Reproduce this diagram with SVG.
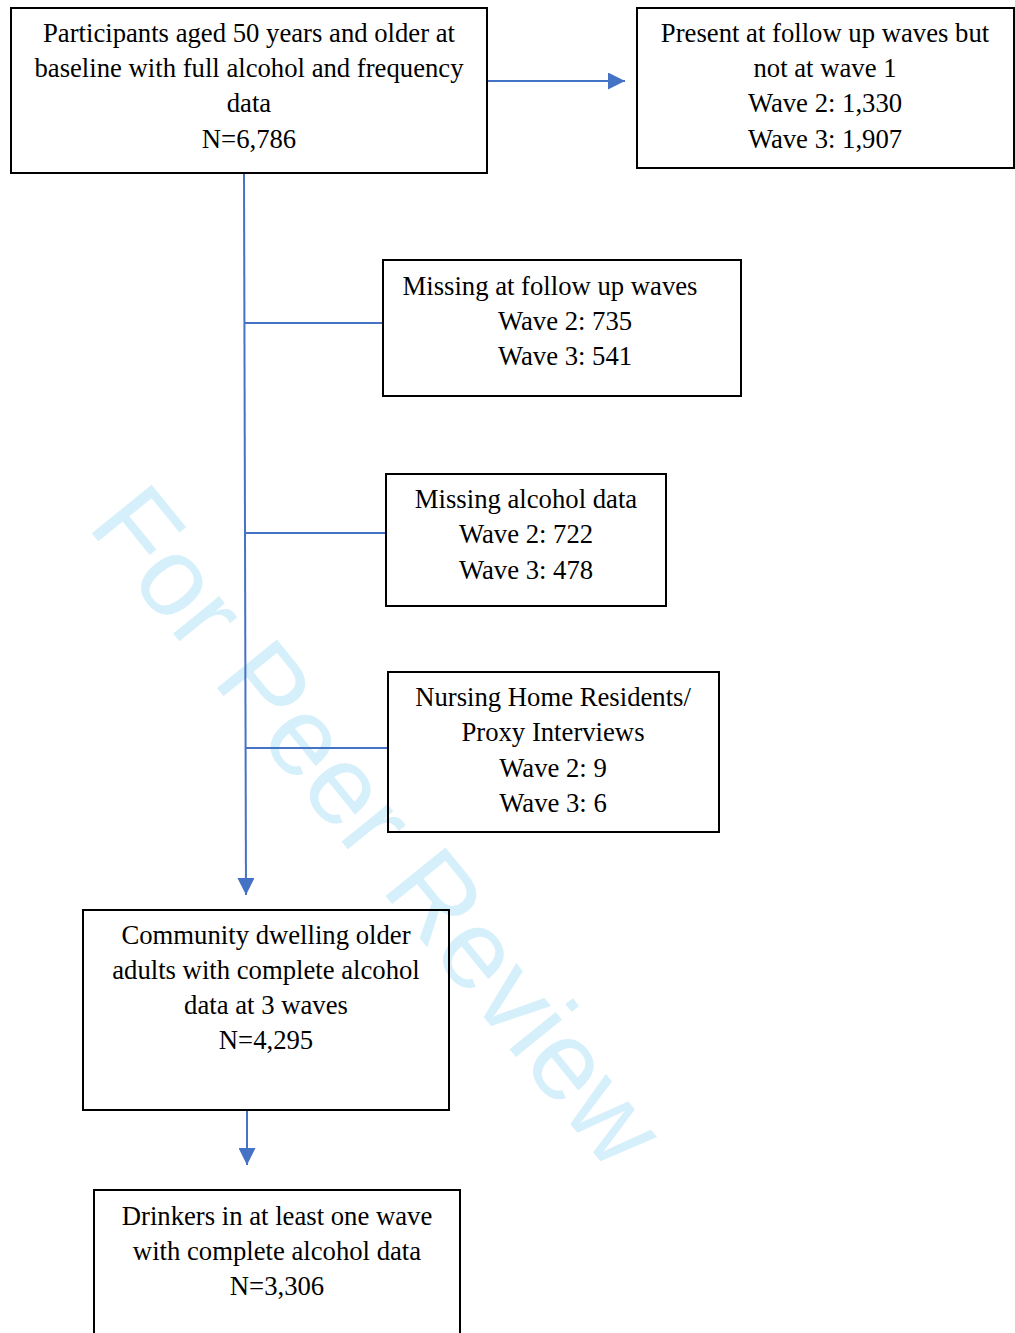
<svg xmlns="http://www.w3.org/2000/svg" width="1015" height="1333" viewBox="0 0 1015 1333">
<style>
.box{fill:none;stroke:#000;stroke-width:2}
.t{font-family:"Liberation Serif","Times New Roman",serif;font-size:26.7px;fill:#000;text-anchor:middle}
.c{stroke:#4472c4;stroke-width:2;fill:none}
.wm{font-family:"Liberation Sans",Arial,sans-serif;font-size:112px;fill:#d6f0fb}
</style>
<defs>
<marker id="ah" viewBox="0 0 10 10" refX="10" refY="5" markerWidth="8.5" markerHeight="8.5" markerUnits="strokeWidth" orient="auto">
<path d="M0,0 L10,5 L0,10 Z" fill="#4472c4"/>
</marker>
</defs>
<rect width="1015" height="1333" fill="#fff"/>
<text class="wm" transform="translate(86,526) rotate(51)">For Peer Review</text>
<g id="connectors">
<line class="c" x1="487" y1="81" x2="625" y2="81" marker-end="url(#ah)"/>
<line class="c" x1="244" y1="173" x2="246" y2="895" marker-end="url(#ah)"/>
<line class="c" x1="245" y1="323" x2="383" y2="323"/>
<line class="c" x1="245" y1="533" x2="386" y2="533"/>
<line class="c" x1="245" y1="748" x2="388" y2="748"/>
<line class="c" x1="247" y1="1110" x2="247" y2="1165" marker-end="url(#ah)"/>
</g>
<g id="n1">
<rect class="box" x="11" y="8" width="476" height="165"/>
<text class="t" x="249" y="42">Participants aged 50 years and older at</text>
<text class="t" x="249" y="77">baseline with full alcohol and frequency</text>
<text class="t" x="249" y="112">data</text>
<text class="t" x="249" y="148">N=6,786</text>
</g>
<g id="n2">
<rect class="box" x="637" y="8" width="377" height="160"/>
<text class="t" x="825" y="42">Present at follow up waves but</text>
<text class="t" x="825" y="77">not at wave 1</text>
<text class="t" x="825" y="112">Wave 2: 1,330</text>
<text class="t" x="825" y="148">Wave 3: 1,907</text>
</g>
<g id="n3">
<rect class="box" x="383" y="260" width="358" height="136"/>
<text class="t" x="550" y="295">Missing at follow up waves</text>
<text class="t" x="565" y="330">Wave 2: 735</text>
<text class="t" x="565" y="365">Wave 3: 541</text>
</g>
<g id="n4">
<rect class="box" x="386" y="474" width="280" height="132"/>
<text class="t" x="526" y="508">Missing alcohol data</text>
<text class="t" x="526" y="543">Wave 2: 722</text>
<text class="t" x="526" y="579">Wave 3: 478</text>
</g>
<g id="n5">
<rect class="box" x="388" y="672" width="331" height="160"/>
<text class="t" x="553" y="706">Nursing Home Residents/</text>
<text class="t" x="553" y="741">Proxy Interviews</text>
<text class="t" x="553" y="777">Wave 2: 9</text>
<text class="t" x="553" y="812">Wave 3: 6</text>
</g>
<g id="n6">
<rect class="box" x="83" y="910" width="366" height="200"/>
<text class="t" x="266" y="944">Community dwelling older</text>
<text class="t" x="266" y="979">adults with complete alcohol</text>
<text class="t" x="266" y="1014">data at 3 waves</text>
<text class="t" x="266" y="1049">N=4,295</text>
</g>
<g id="n7">
<rect class="box" x="94" y="1190" width="366" height="160"/>
<text class="t" x="277" y="1225">Drinkers in at least one wave</text>
<text class="t" x="277" y="1260">with complete alcohol data</text>
<text class="t" x="277" y="1295">N=3,306</text>
</g>
</svg>
